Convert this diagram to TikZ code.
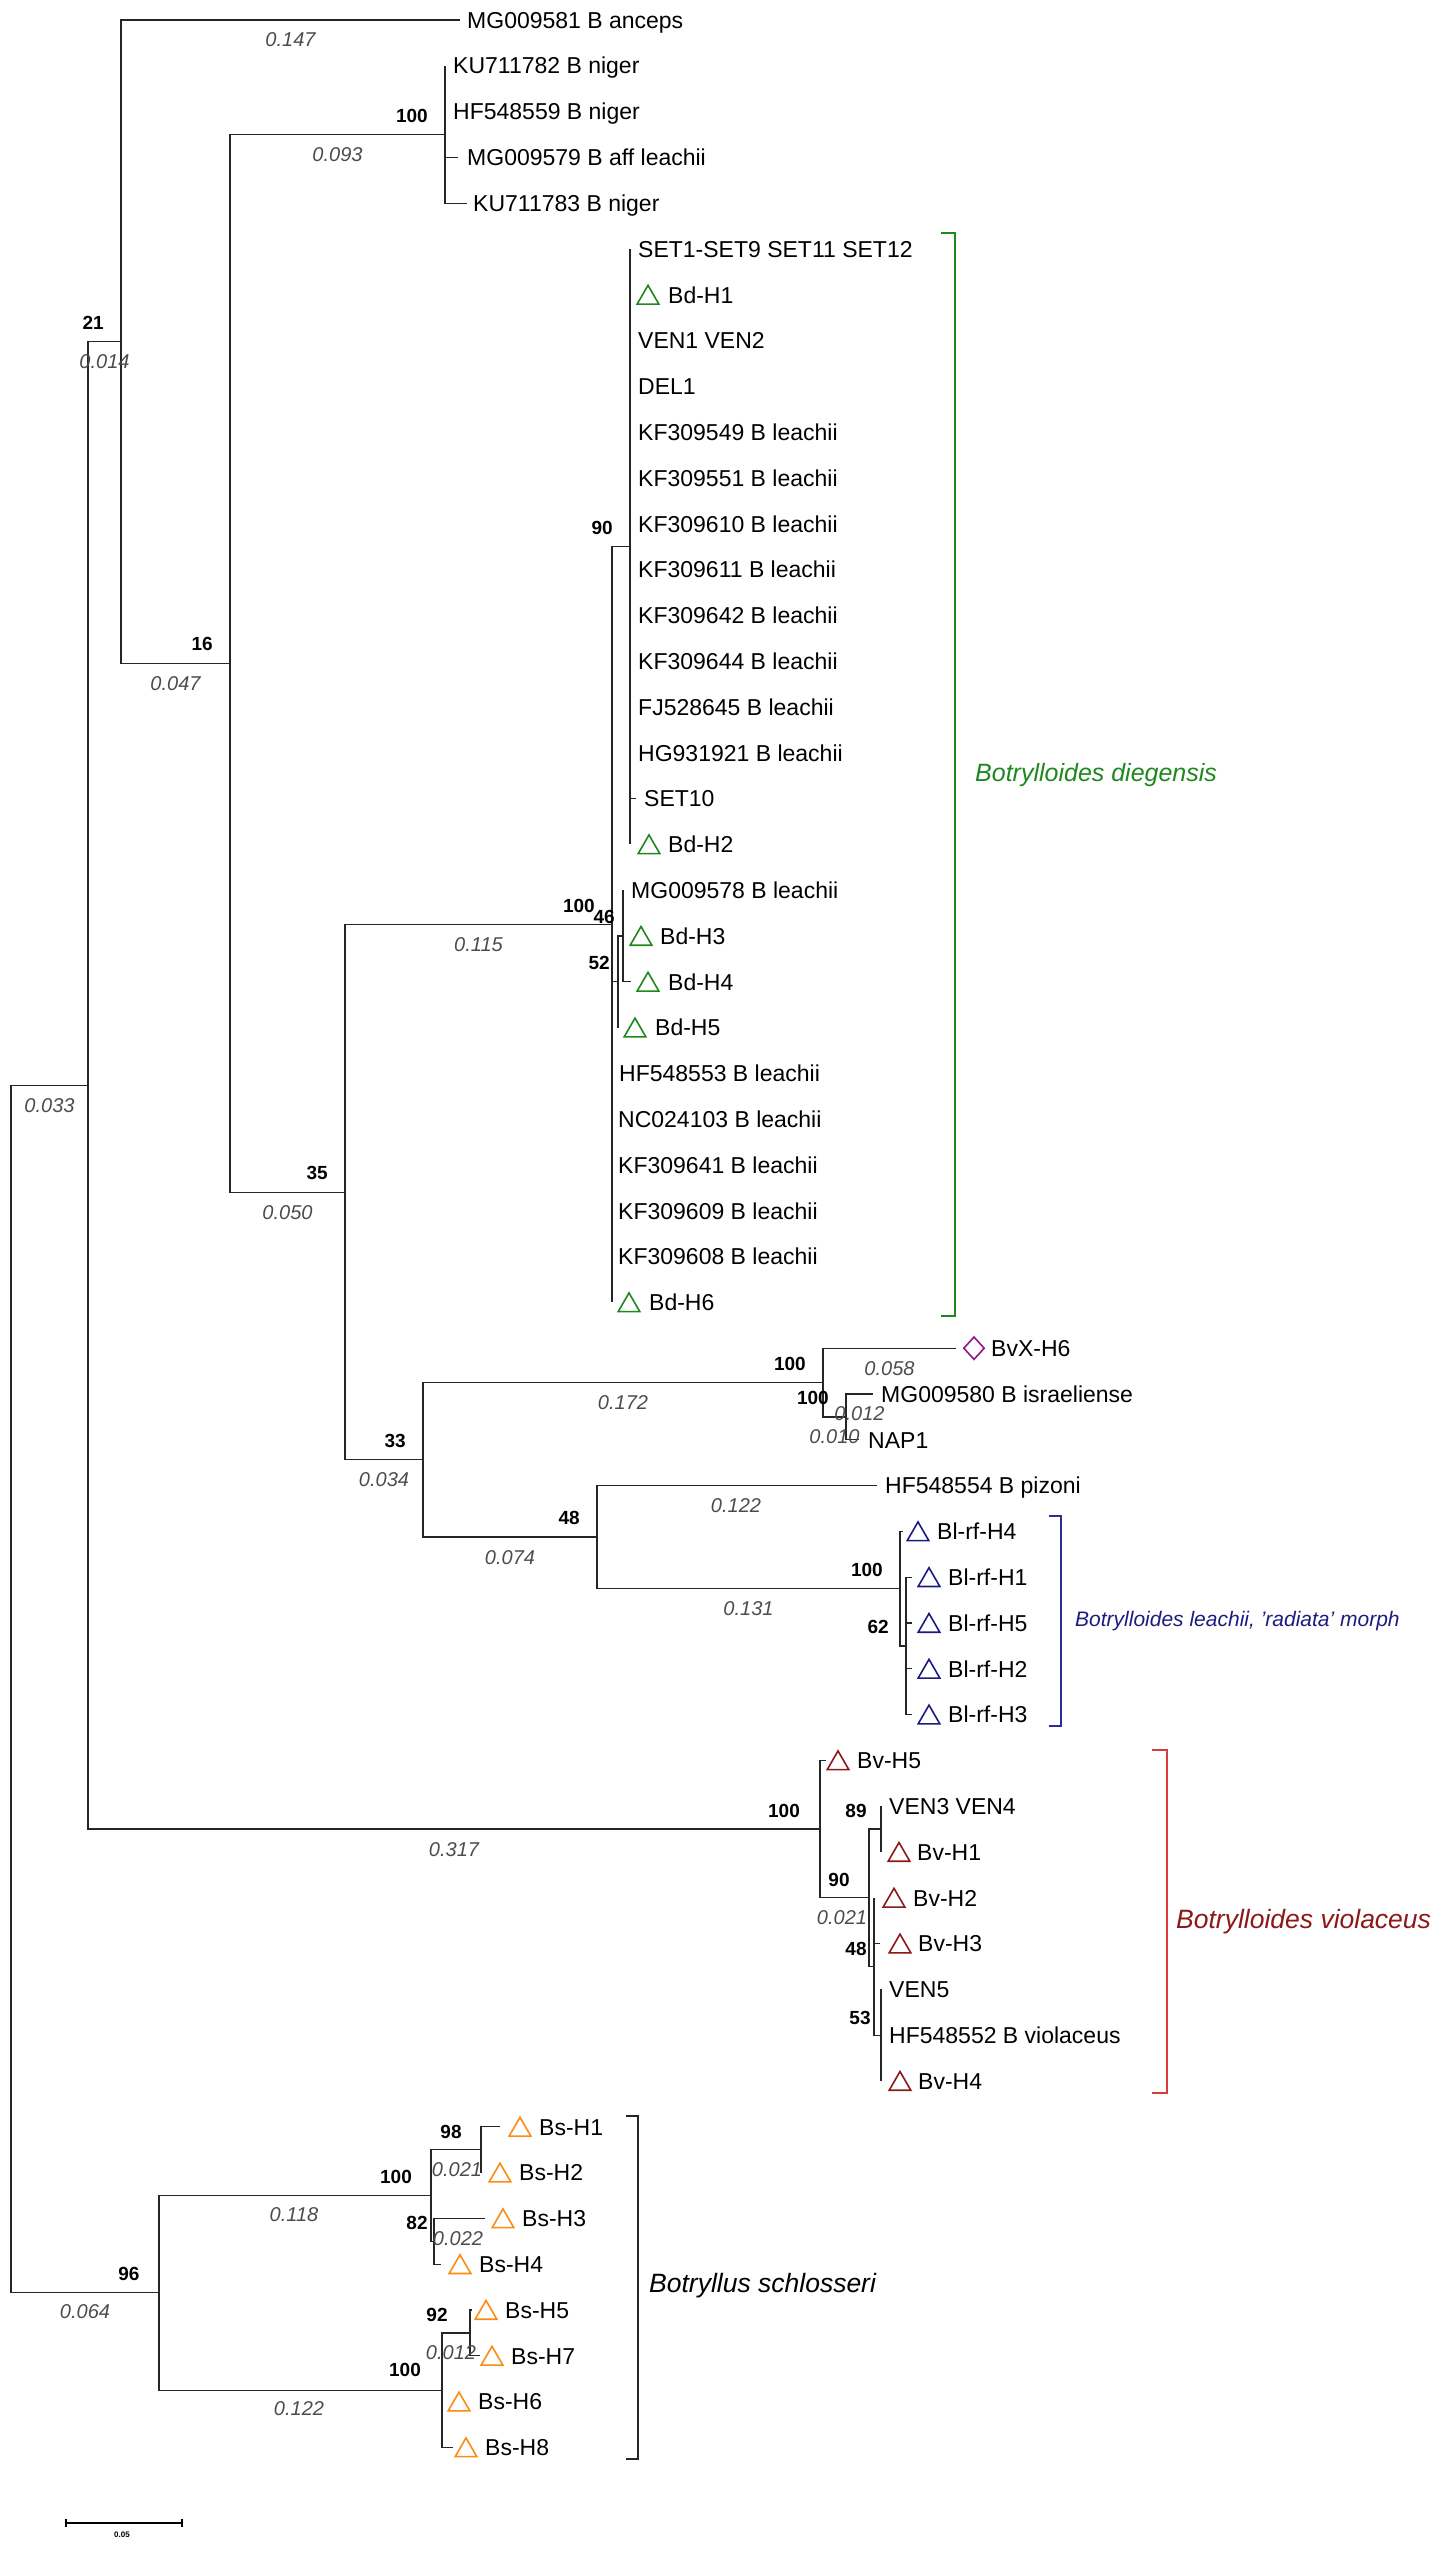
\documentclass[tikz,border=0pt]{standalone}
\usepackage{fontspec}
\setmainfont{Liberation Sans}
\usetikzlibrary{positioning,shapes.geometric}
\definecolor{bdgreen}{RGB}{30,135,30}
\definecolor{blblue}{RGB}{28,28,128}
\definecolor{blbracket}{RGB}{45,45,150}
\definecolor{bvred}{RGB}{140,25,25}
\definecolor{bvbracket}{RGB}{215,60,60}
\definecolor{bsorange}{RGB}{250,140,20}
\definecolor{bvxpurple}{RGB}{140,25,140}

\begin{document}
\begin{tikzpicture}[x=1pt,y=-1pt,
  branch/.style={line width=1.3pt, draw=black!85},
  leaf/.style={anchor=west, inner sep=0pt, font=\fontsize{23}{27}\selectfont, text height=16.4pt, text depth=0pt},
  supp/.style={inner sep=0pt, font=\bfseries\fontsize{19}{22}\selectfont},
  blen/.style={inner sep=0pt, font=\itshape\fontsize{20}{24}\selectfont, text=black!70},
  hap/.style={draw=#1, regular polygon, regular polygon sides=3, minimum size=25pt, inner sep=0pt, line width=1.6pt},
  clade/.style={line width=1.3pt, draw=#1},
  cladename/.style={anchor=west, inner sep=0pt, font=\itshape\fontsize{25}{30}\selectfont, text=#1}]

    \useasboundingbox (0,0) rectangle (1442,2550);

    % Internal nodes
    \coordinate (root) at (11,1689.1);
    \coordinate (nA) at (88,1085.4);
    \coordinate (nB) at (121,341.7);
    \coordinate (nC) at (230,663.35);
    \coordinate (nNig) at (445,134.5);
    \coordinate (nD) at (345,1192.2);
    \coordinate (nBd) at (612,924.55);
    \coordinate (nBd90) at (630,546.7);
    \coordinate (nBd52) at (618,981.8);
    \coordinate (nBd46) at (623,936);
    \coordinate (nF) at (423,1459.8);
    \coordinate (nIsr) at (823,1382.55);
    \coordinate (nIsr2) at (846,1416.9);
    \coordinate (nH) at (597,1537.1);
    \coordinate (nBl) at (900,1588.65);
    \coordinate (nBl62) at (906,1645.9);
    \coordinate (nBv) at (820,1829.1);
    \coordinate (nBv90) at (869,1897.8);
    \coordinate (nBv89) at (881,1829.1);
    \coordinate (nBv48) at (874,1966.5);
    \coordinate (nBv53) at (881,2035.2);
    \coordinate (nBs) at (159,2292.8);
    \coordinate (nBs1) at (431,2195.5);
    \coordinate (nBs98) at (481,2149.7);
    \coordinate (nBs82) at (434,2241.3);
    \coordinate (nBs2) at (442,2390.15);
    \coordinate (nBs92) at (470,2332.9);

    % Backbone
    \draw[branch] (root) |- (nA);
    \draw[branch] (root) |- (nBs);
    \draw[branch] (nA) |- (nB);
    \draw[branch] (nA) |- (nBv);
    \draw[branch] (nB) |- (nC);
    \draw[branch] (nC) |- (nNig);
    \draw[branch] (nC) |- (nD);
    \draw[branch] (nD) |- (nBd);
    \draw[branch] (nD) |- (nF);
    \draw[branch] (nBd) |- (nBd90);
    \draw[branch] (nBd) |- (nBd52);
    \draw[branch] (nBd52) |- (nBd46);
    \draw[branch] (nF) |- (nIsr);
    \draw[branch] (nF) |- (nH);
    \draw[branch] (nIsr) |- (nIsr2);
    \draw[branch] (nH) |- (nBl);
    \draw[branch] (nBl) |- (nBl62);
    \draw[branch] (nBv) |- (nBv90);
    \draw[branch] (nBv90) |- (nBv89);
    \draw[branch] (nBv90) |- (nBv48);
    \draw[branch] (nBv48) |- (nBv53);
    \draw[branch] (nBs) |- (nBs1);
    \draw[branch] (nBs) |- (nBs2);
    \draw[branch] (nBs1) |- (nBs98);
    \draw[branch] (nBs1) |- (nBs82);
    \draw[branch] (nBs2) |- (nBs92);

    % B anceps and B niger
    \coordinate (tAnc) at (460,20);
    \draw[branch] (nB) |- (tAnc);
    \node[leaf] (lAnc) at (467,20) {MG009581 B anceps};
    \foreach \y/\tx/\lx/\lab [count=\i] in {65.8/445/453/KU711782 B niger, 111.6/445/453/HF548559 B niger,
        157.4/458/467/MG009579 B aff leachii, 203.2/467/473/KU711783 B niger} {
      \coordinate (tNig\i) at (\tx,\y);
      \draw[branch] (nNig) |- (tNig\i);
      \node[leaf] (lNig\i) at (\lx,\y) {\lab};
    }

    % Botrylloides diegensis, main group
    \foreach \y/\tx/\lx/\lab [count=\i] in {249/630/638/SET1-SET9 SET11 SET12, 340.6/630/638/VEN1 VEN2,
        386.4/630/638/DEL1, 432.2/630/638/KF309549 B leachii, 478/630/638/KF309551 B leachii,
        523.8/630/638/KF309610 B leachii, 569.6/630/638/KF309611 B leachii, 615.4/630/638/KF309642 B leachii,
        661.2/630/638/KF309644 B leachii, 707/630/638/FJ528645 B leachii, 752.8/630/638/HG931921 B leachii,
        798.6/636/644/SET10} {
      \coordinate (tBd\i) at (\tx,\y);
      \draw[branch] (nBd90) |- (tBd\i);
      \node[leaf] (lBd\i) at (\lx,\y) {\lab};
    }
    \coordinate (tBdH1) at (630,294.8);
    \coordinate (tBdH2) at (630,844.4);
    \draw[branch] (nBd90) |- (tBdH1);
    \draw[branch] (nBd90) |- (tBdH2);
    \node[hap=bdgreen] (mBdH1) at (648,297.8) {};
    \node[leaf] (lBdH1) at (668,294.8) {Bd-H1};
    \node[hap=bdgreen] (mBdH2) at (649,847.4) {};
    \node[leaf] (lBdH2) at (668,844.4) {Bd-H2};

    % Botrylloides diegensis, small subclade
    \coordinate (tMG578) at (623,890.2);
    \coordinate (tBdH3) at (623,936);
    \coordinate (tBdH4) at (631,981.8);
    \coordinate (tBdH5) at (618,1027.6);
    \draw[branch] (nBd46) |- (tMG578);
    \draw[branch] (nBd46) |- (tBdH3);
    \draw[branch] (nBd46) |- (tBdH4);
    \draw[branch] (nBd52) |- (tBdH5);
    \node[leaf] (lMG578) at (631,890.2) {MG009578 B leachii};
    \node[hap=bdgreen] (mBdH3) at (641,939) {};
    \node[leaf] (lBdH3) at (660,936) {Bd-H3};
    \node[hap=bdgreen] (mBdH4) at (648,984.8) {};
    \node[leaf] (lBdH4) at (668,981.8) {Bd-H4};
    \node[hap=bdgreen] (mBdH5) at (635,1030.6) {};
    \node[leaf] (lBdH5) at (655,1027.6) {Bd-H5};

    % Botrylloides diegensis, tips on the clade node
    \foreach \y/\lx/\lab [count=\i] in {1073.4/619/HF548553 B leachii, 1119.2/618/NC024103 B leachii,
        1165/618/KF309641 B leachii, 1210.8/618/KF309609 B leachii, 1256.6/618/KF309608 B leachii} {
      \coordinate (tBe\i) at (612,\y);
      \draw[branch] (nBd) |- (tBe\i);
      \node[leaf] (lBe\i) at (\lx,\y) {\lab};
    }
    \coordinate (tBdH6) at (612,1302.4);
    \draw[branch] (nBd) |- (tBdH6);
    \node[hap=bdgreen] (mBdH6) at (629,1305.4) {};
    \node[leaf] (lBdH6) at (649,1302.4) {Bd-H6};

    % BvX, B israeliense, NAP1
    \coordinate (tBvX) at (956,1348.2);
    \coordinate (tIsr) at (873,1394);
    \coordinate (tNAP) at (859,1439.8);
    \draw[branch] (nIsr) |- (tBvX);
    \draw[branch] (nIsr2) |- (tIsr);
    \draw[branch] (nIsr2) |- (tNAP);
    \node[diamond, draw=bvxpurple, line width=1.6pt, minimum width=21pt, minimum height=23pt, inner sep=0pt] (mBvX) at (974,1348.2) {};
    \node[leaf] (lBvX) at (991,1348.2) {BvX-H6};
    \node[leaf] (lIsr) at (881,1394) {MG009580 B israeliense};
    \node[leaf] (lNAP) at (868,1439.8) {NAP1};

    % B pizoni and B leachii radiata morph
    \coordinate (tPiz) at (877,1485.6);
    \draw[branch] (nH) |- (tPiz);
    \node[leaf] (lPiz) at (885,1485.6) {HF548554 B pizoni};
    \coordinate (tBlH4) at (903,1531.4);
    \draw[branch] (nBl) |- (tBlH4);
    \node[hap=blblue] (mBlH4) at (918,1534.4) {};
    \node[leaf] (lBlH4) at (937,1531.4) {Bl-rf-H4};
    \foreach \y/\lab [count=\i] in {1577.2/Bl-rf-H1, 1623/Bl-rf-H5, 1668.8/Bl-rf-H2, 1714.6/Bl-rf-H3} {
      \coordinate (tBl\i) at (912,\y);
      \draw[branch] (nBl62) |- (tBl\i);
      \node[hap=blblue] (mBl\i) at (929,\y+3) {};
      \node[leaf] (lBl\i) at (948,\y) {\lab};
    }

    % B violaceus
    \coordinate (tBvH5) at (826,1760.4);
    \draw[branch] (nBv) |- (tBvH5);
    \node[hap=bvred] (mBvH5) at (838,1763.4) {};
    \node[leaf] (lBvH5) at (857,1760.4) {Bv-H5};
    \coordinate (tVEN3) at (881,1806.2);
    \coordinate (tBvH1) at (881,1852);
    \draw[branch] (nBv89) |- (tVEN3);
    \draw[branch] (nBv89) |- (tBvH1);
    \node[leaf] (lVEN3) at (889,1806.2) {VEN3 VEN4};
    \node[hap=bvred] (mBvH1) at (899,1855) {};
    \node[leaf] (lBvH1) at (917,1852) {Bv-H1};
    \coordinate (tBvH2) at (874,1897.8);
    \coordinate (tBvH3) at (880,1943.6);
    \draw[branch] (nBv48) |- (tBvH2);
    \draw[branch] (nBv48) |- (tBvH3);
    \node[hap=bvred] (mBvH2) at (894,1900.8) {};
    \node[leaf] (lBvH2) at (913,1897.8) {Bv-H2};
    \node[hap=bvred] (mBvH3) at (900,1946.6) {};
    \node[leaf] (lBvH3) at (918,1943.6) {Bv-H3};
    \coordinate (tVEN5) at (881,1989.4);
    \coordinate (tHF552) at (881,2035.2);
    \coordinate (tBvH4) at (881,2081);
    \draw[branch] (nBv53) |- (tVEN5);
    \draw[branch] (nBv53) |- (tHF552);
    \draw[branch] (nBv53) |- (tBvH4);
    \node[leaf] (lVEN5) at (889,1989.4) {VEN5};
    \node[leaf] (lHF552) at (889,2035.2) {HF548552 B violaceus};
    \node[hap=bvred] (mBvH4) at (900,2084) {};
    \node[leaf] (lBvH4) at (918,2081) {Bv-H4};

    % Botryllus schlosseri
    \foreach \pn/\tx/\y/\mx/\lab in {nBs98/500/2126.8/520/Bs-H1, nBs98/481/2172.6/500/Bs-H2,
        nBs82/485/2218.4/503/Bs-H3, nBs82/441/2264.2/460/Bs-H4, nBs92/472/2310/486/Bs-H5,
        nBs92/480/2355.8/492/Bs-H7, nBs2/442/2401.6/459/Bs-H6, nBs2/453/2447.4/466/Bs-H8} {
      \coordinate (t\lab) at (\tx,\y);
      \draw[branch] (\pn) |- (t\lab);
      \node[hap=bsorange] (m\lab) at (\mx,\y+3) {};
      \node[leaf] (l\lab) at (\mx+19,\y) {\lab};
    }

    % Bootstrap values
    \node[supp, anchor=east] (sNig) at (428,115.5) {100};
    \node[supp, anchor=east] (sB) at (104,322.7) {21};
    \node[supp, anchor=east] (sC) at (213,644.4) {16};
    \node[supp, anchor=east] (sD) at (328,1173.2) {35};
    \node[supp, anchor=east] (sBd) at (595,905.6) {100};
    \node[supp, anchor=east] (sBd90) at (613,527.7) {90};
    \node[supp, anchor=east] (sBd46) at (615,917) {46};
    \node[supp, anchor=east] (sBd52) at (610,962.8) {52};
    \node[supp, anchor=east] (sF) at (406,1440.8) {33};
    \node[supp, anchor=east] (sIsr) at (806,1363.6) {100};
    \node[supp, anchor=east] (sIsr2) at (829,1398) {100};
    \node[supp, anchor=east] (sH) at (580,1518.1) {48};
    \node[supp, anchor=east] (sBl) at (883,1569.7) {100};
    \node[supp, anchor=east] (sBl62) at (889,1627) {62};
    \node[supp] (sBv) at (784,1811) {100};
    \node[supp] (sBv89) at (856,1811) {89};
    \node[supp] (sBv90) at (839,1880) {90};
    \node[supp] (sBv48) at (856,1949) {48};
    \node[supp] (sBv53) at (860,2018) {53};
    \node[supp] (sBs) at (129,2274) {96};
    \node[supp] (sBs1) at (396,2177) {100};
    \node[supp] (sBs98) at (451,2132) {98};
    \node[supp] (sBs82) at (417,2223) {82};
    \node[supp] (sBs92) at (437,2315) {92};
    \node[supp] (sBs2) at (405,2370) {100};

    % Branch lengths
    \node[blen] (bAnc) at (290.5,40) {0.147};
    \node[blen] (bNig) at (337.5,154.5) {0.093};
    \node[blen] (bB) at (104.5,361.7) {0.014};
    \node[blen] (bC) at (175.5,683.4) {0.047};
    \node[blen] (bA) at (49.5,1105.4) {0.033};
    \node[blen] (bD) at (287.5,1212.2) {0.050};
    \node[blen] (bBd) at (478.5,944.6) {0.115};
    \node[blen] (bF) at (384,1479.8) {0.034};
    \node[blen] (bIsr) at (623,1402.6) {0.172};
    \node[blen] (bBvX) at (889.5,1368.2) {0.058};
    \node[blen] (bIsr3) at (859.5,1414) {0.012};
    \node[blen] (bIsr2) at (834.5,1436.9) {0.010};
    \node[blen] (bH) at (510,1557.1) {0.074};
    \node[blen] (bPiz) at (736,1505.6) {0.122};
    \node[blen] (bBl) at (748.5,1608.7) {0.131};
    \node[blen] (bBv) at (454,1849.1) {0.317};
    \node[blen] (bBv90) at (842,1918) {0.021};
    \node[blen] (bBs) at (85,2312) {0.064};
    \node[blen] (bBs1) at (294,2215) {0.118};
    \node[blen] (bBs2) at (299,2409) {0.122};
    \node[blen] (bBs98) at (457,2170) {0.021};
    \node[blen] (bBsH3) at (458,2239) {0.022};
    \node[blen] (bBs92) at (451,2353) {0.012};

    % Clade brackets and names
    \draw[clade=bdgreen] (941,233) -- (955,233) -- (955,1316) -- (941,1316);
    \node[cladename=bdgreen] (cBd) at (975,775) {Botrylloides diegensis};
    \draw[clade=blbracket] (1049,1516) -- (1061,1516) -- (1061,1726) -- (1049,1726);
    \node[cladename=blblue, font=\itshape\fontsize{21}{25}\selectfont] (cBl) at (1075,1621) {Botrylloides leachii, 'radiata' morph};
    \draw[clade=bvbracket] (1152,1750) -- (1167,1750) -- (1167,2093) -- (1152,2093);
    \node[cladename=bvred, font=\itshape\fontsize{26.5}{31}\selectfont] (cBv) at (1176,1922) {Botrylloides violaceus};
    \draw[clade=black!85] (626,2116) -- (638,2116) -- (638,2459) -- (626,2459);
    \node[cladename=black, font=\itshape\fontsize{26.5}{31}\selectfont] (cBs) at (649,2286) {Botryllus schlosseri};

    % Scale bar
    \coordinate (sb1) at (66,2523);
    \coordinate (sb2) at (182,2523);
    \draw[line width=1.2pt] (sb1) -- (sb2);
    \draw[line width=1.2pt] ([yshift=-4pt]sb1) -- ([yshift=4pt]sb1);
    \draw[line width=1.2pt] ([yshift=-4pt]sb2) -- ([yshift=4pt]sb2);
    \node[inner sep=0pt, font=\bfseries\fontsize{8}{9}\selectfont] (sbl) at (122,2535) {0.05};

\end{tikzpicture}
\end{document}
